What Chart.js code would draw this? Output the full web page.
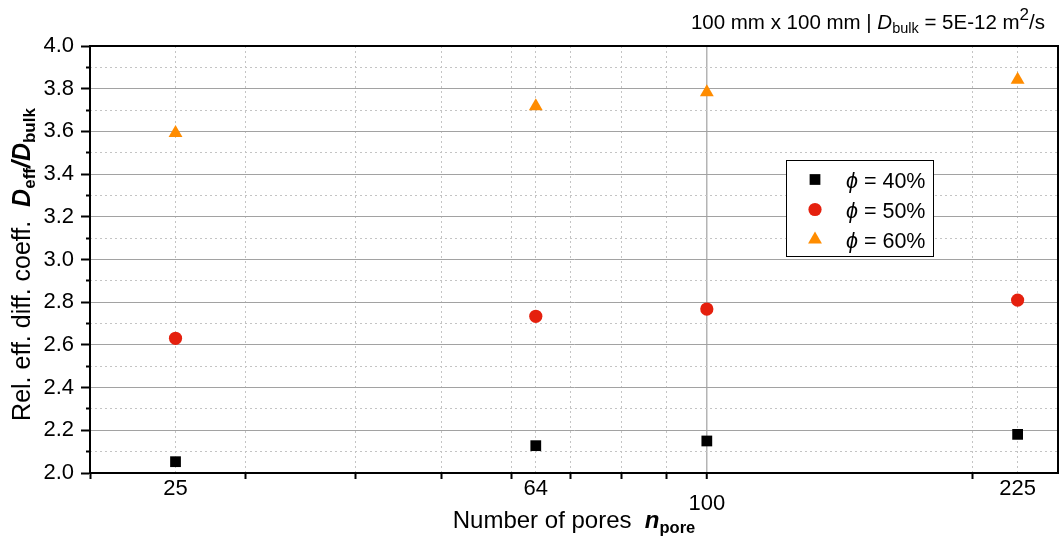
<!DOCTYPE html>
<html>
<head>
<meta charset="utf-8">
<script src="https://cdn.jsdelivr.net/npm/chart.js@4/dist/chart.umd.min.js"></script>
<style>
  html, body { margin: 0; padding: 0; background: #fff; }
</style>
</head>
<body>
<canvas id="chart" width="1060" height="542"></canvas>
<script>
// number of pores (x) and Deff/Dbulk for each porosity
var poreCounts = [25, 64, 100, 225];
var phi40 = [2.053, 2.128, 2.150, 2.181];
var phi50 = [2.631, 2.734, 2.768, 2.810];
var phi60 = [3.592, 3.718, 3.783, 3.842];
var seriesLabels = ['40%', '50%', '60%'];

// axis ticks
var xTickLabels = [25, 64, 100, 225];
var xTickMarks = [20, 30, 40, 50, 60, 70, 80, 90, 100, 200];
var xDottedGrid = [25, 30, 40, 50, 60, 64, 70, 80, 90, 200, 225];
var yRange = [2.0, 4.0];

var FONT = '"Liberation Sans", Arial, sans-serif';
var NONE = 'rgba(0,0,0,0)';

function points(ys) {
    return poreCounts.map(function(x, i) { return { x: x, y: ys[i] }; });
}

function isMajorY(v) {
    return Math.abs(Math.round(v * 5) - v * 5) < 1e-6;
}

// draws a run of differently styled text pieces starting at x, baseline y
function drawRuns(ctx, runs, x, y, align) {
    var total = 0;
    runs.forEach(function(r) {
        ctx.font = r.font;
        r.w = ctx.measureText(r.text).width;
        total += r.w;
    });
    if (align === 'center') x -= total / 2;
    if (align === 'right') x -= total;
    runs.forEach(function(r) {
        ctx.font = r.font;
        ctx.fillText(r.text, x, y + (r.dy || 0));
        x += r.w;
    });
}

var textPlugin = {
    id: 'richText',
    afterDraw: function(chart) {
        var ctx = chart.ctx,
            area = chart.chartArea;

        ctx.save();
        ctx.fillStyle = '#000';
        ctx.textBaseline = 'alphabetic';

        // header
        drawRuns(ctx, [
            { text: '100 mm x 100 mm | ', font: '20.5px ' + FONT },
            { text: 'D', font: 'italic 20.5px ' + FONT },
            { text: 'bulk', font: '14.5px ' + FONT, dy: 4 },
            { text: ' = 5E-12 m', font: '20.5px ' + FONT },
            { text: '2', font: '17px ' + FONT, dy: -9 },
            { text: '/s', font: '20.5px ' + FONT }
        ], 1045, 29, 'right');

        // x title
        drawRuns(ctx, [
            { text: 'Number of pores  ', font: '24px ' + FONT },
            { text: 'n', font: 'italic bold 24px ' + FONT },
            { text: 'pore', font: 'bold 16.5px ' + FONT, dy: 5 }
        ], (area.left + area.right) / 2, 528, 'center');

        // y title
        ctx.save();
        ctx.translate(30, (area.top + area.bottom) / 2 + 5);
        ctx.rotate(-Math.PI / 2);
        drawRuns(ctx, [
            { text: 'Rel. eff. diff. coeff.  ', font: '25px ' + FONT },
            { text: 'D', font: 'italic bold 25px ' + FONT },
            { text: 'eff', font: 'bold 17px ' + FONT, dy: 5 },
            { text: '/', font: 'italic bold 25px ' + FONT },
            { text: 'D', font: 'italic bold 25px ' + FONT },
            { text: 'bulk', font: 'bold 17px ' + FONT, dy: 5 }
        ], 0, 0, 'center');
        ctx.restore();

        // legend
        var lx = 786, ly = 160, lw = 147, lh = 96;
        ctx.fillStyle = '#fff';
        ctx.fillRect(lx, ly, lw, lh);
        ctx.strokeStyle = '#000';
        ctx.lineWidth = 1;
        ctx.strokeRect(lx + 0.5, ly + 0.5, lw, lh);

        chart.data.datasets.forEach(function(ds, i) {
            var cy = ly + 19.5 + i * 30;
            ctx.fillStyle = ds.backgroundColor;
            Chart.helpers.drawPoint(ctx, {
                pointStyle: ds.pointStyle,
                radius: ds.pointRadius,
                rotation: 0,
                borderWidth: 0
            }, lx + 29, cy);
            ctx.fillStyle = '#000';
            drawRuns(ctx, [
                { text: '\u03D5', font: 'italic 21.5px ' + FONT },
                { text: ' = ' + ds.label, font: '21.5px ' + FONT }
            ], lx + 60, cy + 8, 'left');
        });

        ctx.restore();
    }
};

new Chart(document.getElementById('chart'), {
    type: 'scatter',
    data: {
        datasets: [
            {
                label: seriesLabels[0], data: points(phi40),
                pointStyle: 'rect', pointRadius: 7.6, pointHoverRadius: 7.6,
                backgroundColor: '#000000', borderColor: '#000000', borderWidth: 0
            },
            {
                label: seriesLabels[1], data: points(phi50),
                pointStyle: 'circle', pointRadius: 6.6, pointHoverRadius: 6.6,
                backgroundColor: '#E5200E', borderColor: '#E5200E', borderWidth: 0
            },
            {
                label: seriesLabels[2], data: points(phi60),
                pointStyle: 'triangle', pointRadius: 8, pointHoverRadius: 8,
                backgroundColor: '#FF8C00', borderColor: '#FF8C00', borderWidth: 0
            }
        ]
    },
    options: {
        responsive: false,
        animation: false,
        events: [],
        layout: { autoPadding: false, padding: { top: 46, right: 2, left: 0, bottom: 0 } },
        plugins: {
            legend: { display: false },
            tooltip: { enabled: false }
        },
        scales: {
            x: {
                type: 'logarithmic', position: 'bottom', weight: 1,
                min: 20, max: 250,
                afterBuildTicks: function(s) {
                    var vals = xTickMarks.concat([25, 64, 225]).sort(function(a, b) { return a - b; });
                    s.ticks = vals.map(function(v) { return { value: v }; });
                },
                afterFit: function(s) { s.height = 69; },
                ticks: {
                    autoSkip: false, maxRotation: 0, padding: -1, color: '#000',
                    font: function(c) {
                        var low = c.tick && c.tick.value === 100;
                        return { family: FONT, size: 22, lineHeight: low ? 0.78 : 1 };
                    },
                    callback: function(v) {
                        if (v === 100) return ['', '100'];
                        return xTickLabels.indexOf(v) >= 0 ? String(v) : '';
                    }
                },
                grid: {
                    color: function(c) { return c.tick && c.tick.value === 100 ? '#b4b4b4' : NONE; },
                    lineWidth: function(c) { return c.tick && c.tick.value === 100 ? 1.5 : 1; },
                    tickLength: 6, tickWidth: 2,
                    tickColor: function(c) {
                        return c.tick && xTickMarks.indexOf(c.tick.value) >= 0 ? '#000' : NONE;
                    }
                },
                border: { color: '#000', width: 2 }
            },
            xMinor: {
                type: 'logarithmic', position: 'bottom', axis: 'x', weight: 0,
                min: 20, max: 250,
                afterBuildTicks: function(s) {
                    s.ticks = xDottedGrid.map(function(v) { return { value: v }; });
                },
                afterFit: function(s) { s.height = 0; },
                ticks: { display: false },
                grid: { color: '#c4c4c4', lineWidth: 1, drawTicks: false },
                border: { display: false, dash: [2, 3] }
            },
            xTop: {
                type: 'linear', position: 'top', axis: 'x',
                afterFit: function(s) { s.height = 0; },
                ticks: { display: false },
                grid: { drawOnChartArea: false, drawTicks: false },
                border: { color: '#000', width: 2 }
            },
            y: {
                type: 'linear', position: 'left', weight: 1,
                min: yRange[0], max: yRange[1],
                afterFit: function(s) { s.width = 90; },
                ticks: {
                    stepSize: 0.2, padding: 7, color: '#000',
                    font: { family: FONT, size: 22 },
                    callback: function(v) { return v.toFixed(1); }
                },
                grid: {
                    color: function(c) {
                        var v = c.tick ? c.tick.value : 0;
                        return (v > 2.01 && v < 3.99) ? '#a2a2a2' : NONE;
                    },
                    lineWidth: 1,
                    tickLength: 9, tickWidth: 2, tickColor: '#000'
                },
                border: { color: '#000', width: 2 }
            },
            yMinor: {
                type: 'linear', position: 'left', axis: 'y', weight: 0,
                min: yRange[0], max: yRange[1],
                afterFit: function(s) { s.width = 0; },
                ticks: { display: false, stepSize: 0.1 },
                grid: {
                    color: function(c) { return c.tick && !isMajorY(c.tick.value) ? '#c4c4c4' : NONE; },
                    lineWidth: 1,
                    tickLength: 4, tickWidth: 2,
                    tickColor: function(c) { return c.tick && !isMajorY(c.tick.value) ? '#000' : NONE; }
                },
                border: { display: false, dash: [2, 3] }
            },
            yRight: {
                type: 'linear', position: 'right', axis: 'y',
                afterFit: function(s) { s.width = 0; },
                ticks: { display: false },
                grid: { drawOnChartArea: false, drawTicks: false },
                border: { color: '#000', width: 2 }
            }
        }
    },
    plugins: [textPlugin]
});
</script>
</body>
</html>
